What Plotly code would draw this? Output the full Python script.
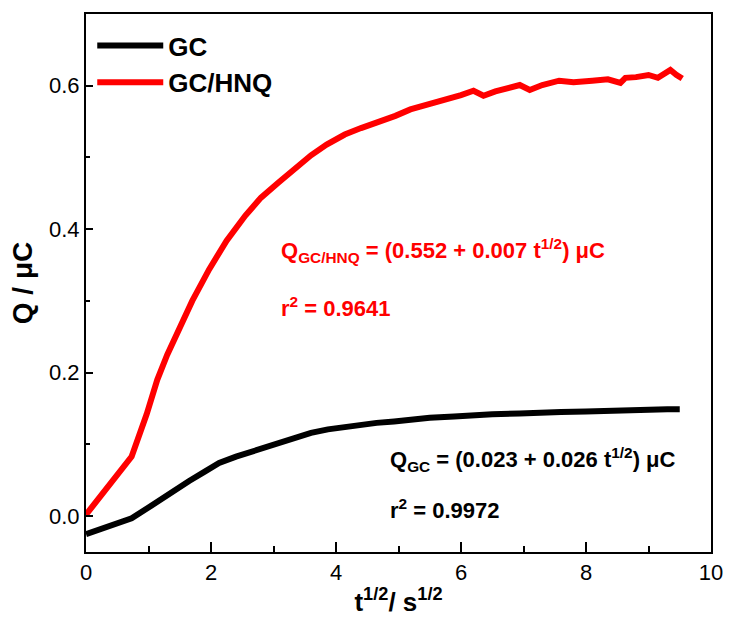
import plotly.graph_objects as go

# Charge vs square root of time
t_gc = [0, 0.35, 0.73, 1.0, 1.22, 1.45, 1.65, 1.9, 2.13, 2.4, 2.65, 3.0, 3.35, 3.6,
        3.87, 4.1, 4.4, 4.65, 4.93, 5.2, 5.5, 5.89, 6.2, 6.5, 6.94, 7.3, 7.6, 8.0,
        8.4, 8.7, 9.06, 9.3, 9.5]
q_gc = [-0.025, -0.014, -0.003, 0.012, 0.025, 0.038, 0.049, 0.062, 0.074, 0.083,
        0.090, 0.101, 0.110, 0.116, 0.121, 0.124, 0.128, 0.130, 0.132, 0.135, 0.137,
        0.139, 0.141, 0.142, 0.143, 0.145, 0.145, 0.146, 0.147, 0.148, 0.150, 0.149,
        0.149]

t_hnq = [0, 0.73, 0.97, 1.14, 1.3, 1.49, 1.7, 1.97, 2.25, 2.55, 2.8, 3.08, 3.35, 3.6,
         3.85, 4.14, 4.4, 4.67, 4.95, 5.19, 5.45, 5.73, 6.0, 6.2, 6.36, 6.55, 6.75,
         6.94, 7.1, 7.3, 7.57, 7.8, 8.1, 8.35, 8.55, 8.63, 8.8, 9.0, 9.15, 9.35, 9.45,
         9.54]
q_hnq = [0.002, 0.083, 0.142, 0.190, 0.225, 0.261, 0.300, 0.344, 0.384, 0.419, 0.444,
         0.465, 0.486, 0.503, 0.518, 0.532, 0.541, 0.549, 0.558, 0.567, 0.573, 0.581,
         0.587, 0.593, 0.586, 0.592, 0.597, 0.601, 0.594, 0.601, 0.607, 0.605, 0.607,
         0.609, 0.604, 0.611, 0.612, 0.615, 0.611, 0.622, 0.615, 0.610]

FONT = "Liberation Sans, Arial, sans-serif"

fig = go.Figure()
fig.add_trace(go.Scatter(x=t_gc, y=q_gc, mode="lines", name="<b>GC</b>",
                         line=dict(color="black", width=6)))
fig.add_trace(go.Scatter(x=t_hnq, y=q_hnq, mode="lines", name="<b>GC/HNQ</b>",
                         line=dict(color="#ff0000", width=6)))

ann_font_red = dict(family=FONT, size=22, color="#ff0000")
ann_font_blk = dict(family=FONT, size=22, color="black")
annotations = [
    dict(x=3.08, y=0.371, text="<b>Q<sub>GC/HNQ</sub> = (0.552 + 0.007 t<sup>1/2</sup>) μC</b>",
         font=ann_font_red),
    dict(x=3.08, y=0.292, text="<b>r<sup>2</sup> = 0.9641</b>", font=ann_font_red),
    dict(x=4.83, y=0.079, text="<b>Q<sub>GC</sub> = (0.023 + 0.026 t<sup>1/2</sup>) μC</b>",
         font=ann_font_blk),
    dict(x=4.83, y=0.010, text="<b>r<sup>2</sup> = 0.9972</b>", font=ann_font_blk),
]
for a in annotations:
    a.update(xref="x", yref="y", xanchor="left", yanchor="middle", showarrow=False)

axis_common = dict(
    showline=True, linecolor="black", linewidth=2, mirror=True,
    ticks="inside", tickcolor="black", tickwidth=2,
    showgrid=False, zeroline=False,
    tickfont=dict(family=FONT, size=22, color="black"),
)

fig.update_layout(
    width=735, height=628,
    margin=dict(l=86, r=17, t=12, b=76),
    plot_bgcolor="white", paper_bgcolor="white",
    annotations=annotations,
    showlegend=True,
    legend=dict(x=0.01, y=0.985, xanchor="left", yanchor="top",
                bgcolor="rgba(0,0,0,0)", itemwidth=66,
                font=dict(family=FONT, size=26, color="black"),
                tracegroupgap=0),
    xaxis=dict(range=[0, 10], tickvals=[0, 2, 4, 6, 8, 10], ticklen=10,
               minor=dict(ticks="inside", dtick=1, ticklen=6, tickwidth=2, tickcolor="black"),
               title=dict(text="<b>t<sup>1/2</sup>/ s<sup>1/2</sup></b>",
                          font=dict(family=FONT, size=26, color="black"), standoff=8),
               **axis_common),
    yaxis=dict(range=[-0.05, 0.7], tickvals=[0.0, 0.2, 0.4, 0.6], tickformat=".1f",
               ticklen=7,
               minor=dict(ticks="inside", dtick=0.1, ticklen=4, tickwidth=2, tickcolor="black"),
               title=dict(text="<b>Q / μC</b>",
                          font=dict(family=FONT, size=28, color="black"), standoff=8),
               **axis_common),
)

fig.write_html("out.html")
